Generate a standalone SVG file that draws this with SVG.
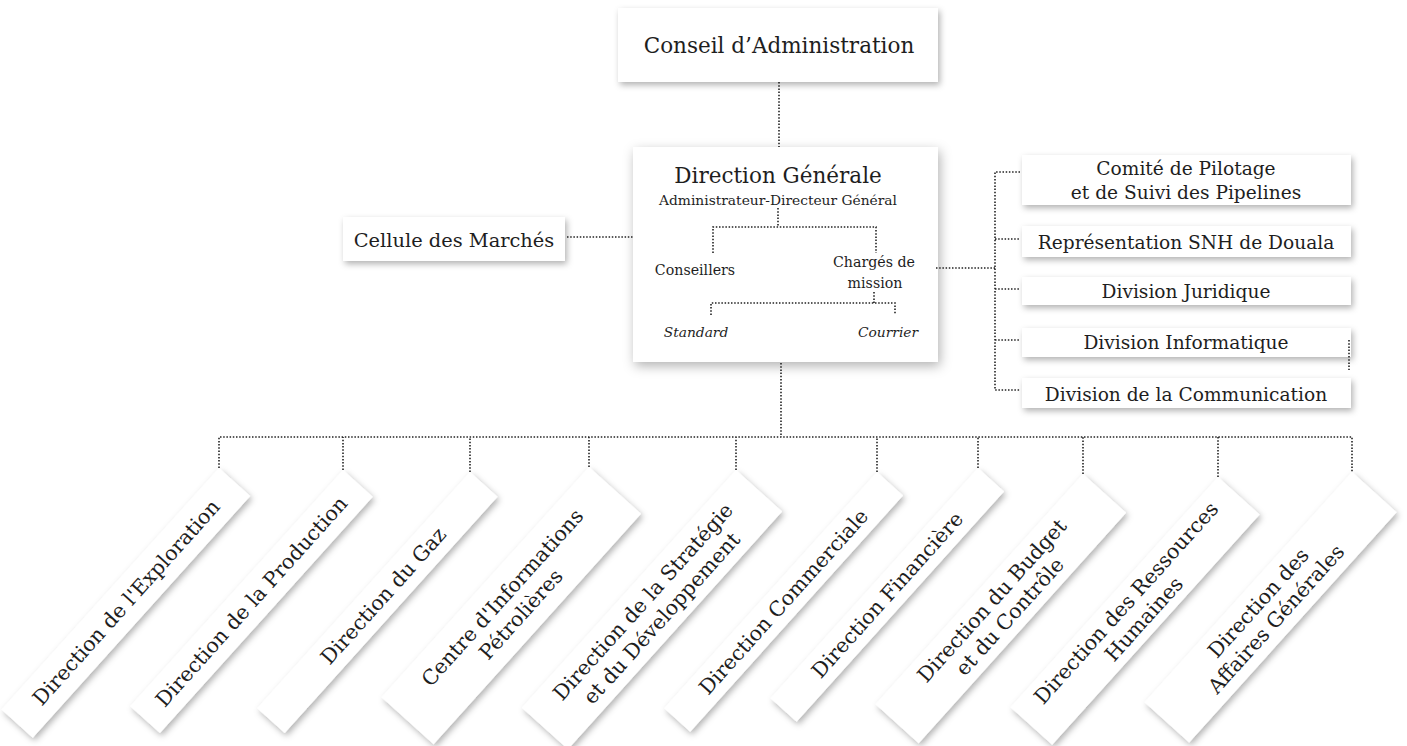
<svg xmlns="http://www.w3.org/2000/svg" width="1407" height="746" viewBox="0 0 1407 746">
<defs>
<filter id="sh" x="-20%" y="-20%" width="140%" height="160%">
<feDropShadow dx="2" dy="3" stdDeviation="3" flood-color="#000" flood-opacity="0.3"/>
</filter>
<filter id="shb" x="-20%" y="-20%" width="140%" height="140%">
<feDropShadow dx="2" dy="4" stdDeviation="6" flood-color="#000" flood-opacity="0.3"/>
</filter>
<style>
.box{fill:#fff}
.t{font-family:"DejaVu Serif","Liberation Serif",serif;fill:#1e1e1e;text-anchor:middle}
.b{font-size:20.5px}
.r{font-size:18.6px}
.s{font-size:14.2px}
.dot{fill:none;stroke:#222;stroke-width:1.6;stroke-dasharray:1.5 1.7}
</style>
</defs>
<rect width="1407" height="746" fill="#fff"/>

<g id="n-conseil">
<rect class="box" x="618" y="8" width="320" height="74" filter="url(#sh)"/>
<text class="t" x="779" y="53" font-size="21.5">Conseil d’Administration</text>
</g>

<g id="n-dg">
<rect class="box" x="633" y="147" width="305" height="215" filter="url(#shb)"/>
<text class="t" x="778" y="183" font-size="21.5">Direction Générale</text>
<text class="t" x="778" y="205" font-size="13.8">Administrateur-Directeur Général</text>
<text class="t s" x="695" y="275">Conseillers</text>
<text class="t s" x="874" y="267">Chargés de</text>
<text class="t s" x="875" y="288">mission</text>
<text class="t" x="696" y="337" font-size="13.8" font-style="italic">Standard</text>
<text class="t" x="888" y="337" font-size="13.8" font-style="italic">Courrier</text>
</g>

<g id="n-cellule">
<rect class="box" x="343" y="217" width="222" height="44" filter="url(#sh)"/>
<text class="t" x="454" y="247" font-size="19.4">Cellule des Marchés</text>
</g>

<g id="n-comite">
<rect class="box" x="1022" y="155" width="329" height="50" filter="url(#sh)"/>
<text class="t r" x="1186" y="175">Comité de Pilotage</text>
<text class="t r" x="1186" y="199">et de Suivi des Pipelines</text>
</g>
<g id="n-douala">
<rect class="box" x="1022" y="226" width="329" height="31" filter="url(#sh)"/>
<text class="t r" x="1186" y="249">Représentation SNH de Douala</text>
</g>
<g id="n-juridique">
<rect class="box" x="1022" y="277" width="329" height="28" filter="url(#sh)"/>
<text class="t r" x="1186" y="298">Division Juridique</text>
</g>
<g id="n-informatique">
<rect class="box" x="1022" y="328" width="329" height="29" filter="url(#sh)"/>
<text class="t r" x="1186" y="349">Division Informatique</text>
</g>
<g id="n-communication">
<rect class="box" x="1022" y="378" width="329" height="30" filter="url(#sh)"/>
<text class="t r" x="1186" y="401">Division de la Communication</text>
</g>

<g id="n-exploration">
<g filter="url(#sh)"><rect class="box" x="-325" y="0" width="325" height="42" transform="translate(219 468) rotate(-48)"/></g>
<text class="t b" transform="translate(219 468) rotate(-48)" x="-162" y="28">Direction de l'Exploration</text>
</g>
<g id="n-production">
<g filter="url(#sh)"><rect class="box" x="-318" y="0" width="318" height="40" transform="translate(343 470) rotate(-48)"/></g>
<text class="t b" transform="translate(343 470) rotate(-48)" x="-159" y="27">Direction de la Production</text>
</g>
<g id="n-gaz">
<g filter="url(#sh)"><rect class="box" x="-318" y="0" width="318" height="37" transform="translate(470 472) rotate(-48)"/></g>
<text class="t b" transform="translate(470 472) rotate(-48)" x="-150" y="25.5">Direction du Gaz</text>
</g>
<g id="n-centre">
<g filter="url(#sh)"><rect class="box" x="-310" y="0" width="310" height="70" transform="translate(589 467) rotate(-48)"/></g>
<text class="t b" transform="translate(589 467) rotate(-48)" x="-155" y="30">Centre d'Informations</text>
<text class="t b" transform="translate(589 467) rotate(-48)" x="-155" y="55">Pétrolières</text>
</g>
<g id="n-strategie">
<g filter="url(#sh)"><rect class="box" x="-320" y="0" width="320" height="62" transform="translate(736 470) rotate(-48)"/></g>
<text class="t b" transform="translate(736 470) rotate(-48)" x="-160" y="26">Direction de la Stratégie</text>
<text class="t b" transform="translate(736 470) rotate(-48)" x="-160" y="51">et du Développement</text>
</g>
<g id="n-commerciale">
<g filter="url(#sh)"><rect class="box" x="-318" y="0" width="318" height="35" transform="translate(877 472) rotate(-48)"/></g>
<text class="t b" transform="translate(877 472) rotate(-48)" x="-159" y="24.5">Direction Commerciale</text>
</g>
<g id="n-financiere">
<g filter="url(#sh)"><rect class="box" x="-310" y="0" width="310" height="35" transform="translate(978 468) rotate(-48)"/></g>
<text class="t b" transform="translate(978 468) rotate(-48)" x="-155" y="24.5">Direction Financière</text>
</g>
<g id="n-budget">
<g filter="url(#sh)"><rect class="box" x="-310" y="0" width="310" height="58" transform="translate(1083 474) rotate(-48)"/></g>
<text class="t b" transform="translate(1083 474) rotate(-48)" x="-155" y="24">Direction du Budget</text>
<text class="t b" transform="translate(1083 474) rotate(-48)" x="-155" y="48">et du Contrôle</text>
</g>
<g id="n-rh">
<g filter="url(#sh)"><rect class="box" x="-310" y="0" width="310" height="56" transform="translate(1218 477) rotate(-48)"/></g>
<text class="t b" transform="translate(1218 477) rotate(-48)" x="-155" y="23">Direction des Ressources</text>
<text class="t b" transform="translate(1218 477) rotate(-48)" x="-155" y="47">Humaines</text>
</g>
<g id="n-affaires">
<g filter="url(#sh)"><rect class="box" x="-310" y="0" width="310" height="60" transform="translate(1352 472) rotate(-48)"/></g>
<text class="t b" transform="translate(1352 472) rotate(-48)" x="-160" y="25">Direction des</text>
<text class="t b" transform="translate(1352 472) rotate(-48)" x="-160" y="49">Affaires Générales</text>
</g>

<g id="connectors">
<path class="dot" d="M779 82V147"/>
<path class="dot" d="M567 237H633"/>
<path class="dot" d="M778 208V227M713 253V227H876V253"/>
<path class="dot" d="M874 292V303M711 315V303H895V315"/>
<path class="dot" d="M936 268H995M1020 172H995V390H1020M995 239H1020M995 289H1020M995 340H1020"/>
<path class="dot" d="M1349 340V370"/>
<path class="dot" d="M781 363V437M219 468V437H1352V472M343 470V437M470 472V437M589 467V437M736 470V437M877 472V437M978 468V437M1083 474V437M1218 477V437"/>
</g>
</svg>
